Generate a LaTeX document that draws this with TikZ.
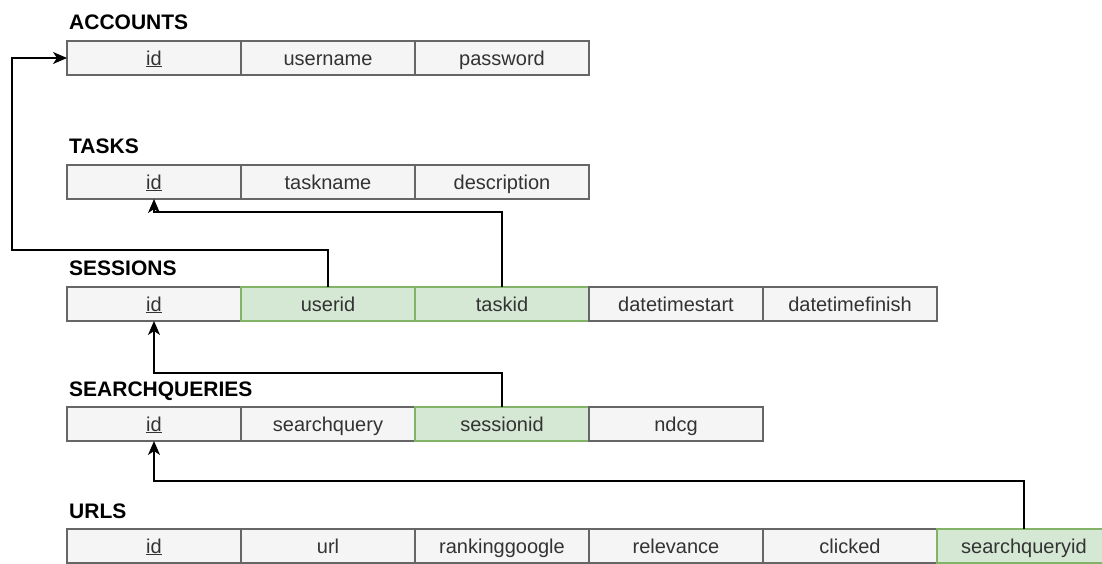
\documentclass[tikz,border=0pt]{standalone}
\usepackage{fontspec}
\setmainfont{Liberation Sans}
\usetikzlibrary{arrows.meta,positioning}
\definecolor{cellfill}{HTML}{F5F5F5}
\definecolor{celldraw}{HTML}{666666}
\definecolor{keyfill}{HTML}{D5E8D4}
\definecolor{keydraw}{HTML}{82B366}
\definecolor{celltext}{HTML}{333333}
\tikzset{
  cell/.style={draw=celldraw,fill=cellfill,line width=1.2pt,text=celltext,
    minimum width=174pt,minimum height=34pt,inner sep=0pt,outer sep=0pt,
    text height=16pt,text depth=2pt,
    font=\fontsize{20}{24}\selectfont},
  keycell/.style={cell,draw=keydraw,fill=keyfill},
  title/.style={font=\fontsize{21}{24}\selectfont\bfseries,inner sep=0pt,anchor=base west},
  fk/.style={line width=1.4pt,-{Stealth[length=14pt,width=12pt,inset=4pt]}}
}
\begin{document}
\begin{tikzpicture}[x=1pt,y=-1pt]
\useasboundingbox (0,0) rectangle (1102,563);

% accounts
\node[cell,anchor=north west] (acc-id) at (67,41) {\underline{id}};
\node[cell,right=0pt of acc-id] (acc-user) {username};
\node[cell,right=0pt of acc-user] (acc-pass) {password};
\node[title] (acc-t) at ([shift={(2,-12)}]acc-id.north west) {ACCOUNTS};

% tasks
\node[cell,anchor=north west] (task-id) at (67,165) {\underline{id}};
\node[cell,right=0pt of task-id] (task-name) {taskname};
\node[cell,right=0pt of task-name] (task-desc) {description};
\node[title] (task-t) at ([shift={(2,-12)}]task-id.north west) {TASKS};

% sessions
\node[cell,anchor=north west] (ses-id) at (67,287) {\underline{id}};
\node[keycell,right=0pt of ses-id] (ses-user) {userid};
\node[keycell,right=0pt of ses-user] (ses-task) {taskid};
\node[cell,right=0pt of ses-task] (ses-start) {datetimestart};
\node[cell,right=0pt of ses-start] (ses-end) {datetimefinish};
\node[title] (ses-t) at ([shift={(2,-12)}]ses-id.north west) {SESSIONS};

% searchqueries
\node[cell,anchor=north west] (sq-id) at (67,407) {\underline{id}};
\node[cell,right=0pt of sq-id] (sq-query) {searchquery};
\node[keycell,right=0pt of sq-query] (sq-ses) {sessionid};
\node[cell,right=0pt of sq-ses] (sq-ndcg) {ndcg};
\node[title] (sq-t) at ([shift={(2,-11)}]sq-id.north west) {SEARCHQUERIES};

% urls
\node[cell,anchor=north west] (url-id) at (67,529) {\underline{id}};
\node[cell,right=0pt of url-id] (url-url) {url};
\node[cell,right=0pt of url-url] (url-rank) {rankinggoogle};
\node[cell,right=0pt of url-rank] (url-rel) {relevance};
\node[cell,right=0pt of url-rel] (url-click) {clicked};
\node[keycell,right=0pt of url-click] (url-sq) {searchqueryid};
\node[title] (url-t) at ([shift={(2,-11)}]url-id.north west) {URLS};

% foreign keys
\coordinate (bend-user) at (12,250);
\coordinate (bend-task) at (154,212);
\coordinate (bend-ses) at (154,373);
\coordinate (bend-sq) at (154,481);
\draw[fk] (ses-user.north) |- (bend-user) |- (acc-id.west);
\draw[fk] (ses-task.north) |- (bend-task) -- (task-id.south);
\draw[fk] (sq-ses.north) |- (bend-ses) -- (ses-id.south);
\draw[fk] (url-sq.north) |- (bend-sq) -- (sq-id.south);
\end{tikzpicture}
\end{document}
